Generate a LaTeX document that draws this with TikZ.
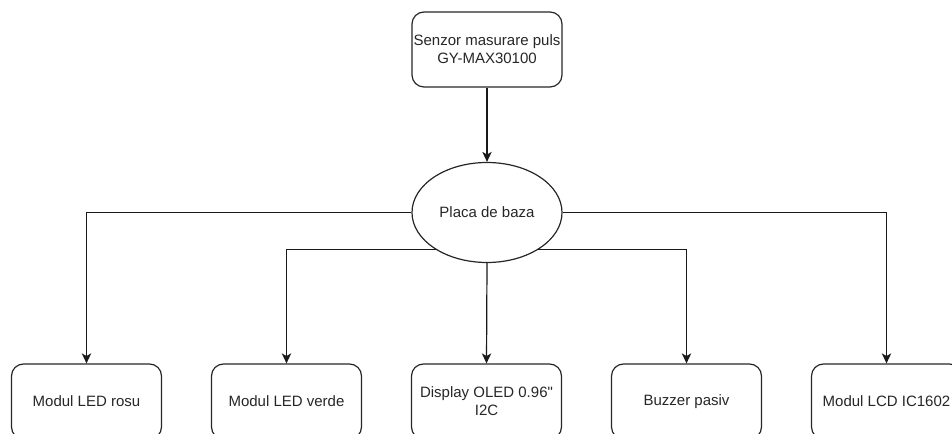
\documentclass[tikz,border=0pt]{standalone}
\usepackage{fontspec}
\setmainfont{Liberation Sans}[Ligatures=TeXOff]
\usetikzlibrary{shapes.geometric,arrows.meta}
\begin{document}
\begin{tikzpicture}[x=0.75pt,y=-0.75pt,
  every node/.style={font=\fontsize{11.25}{13.5}\selectfont, text=black!85, align=center},
  box/.style={draw=black!85, line width=0.9pt, rounded corners=9pt, minimum width=112.5pt, minimum height=56.25pt, inner sep=0pt},
  ell/.style={draw=black!85, line width=0.9pt, ellipse, minimum width=112.5pt, minimum height=75pt, inner sep=0pt},
  conn/.style={draw=black!90, line width=0.9pt},
  arr/.style={conn, -{Stealth[length=7.5pt,width=7pt,inset=2pt]}}]
\path[use as bounding box, clip] (0,0) rectangle (952,434);
\node[box] (top) at (487,49.5) {Senzor masurare puls\\GY-MAX30100};
\node[ell] (ell) at (487,212.5) {Placa de baza};
\node[box] (b1) at (86.5,401.5) {Modul LED rosu};
\node[box] (b2) at (286.5,401.5) {Modul LED verde};
\node[box] (b3) at (486.5,401.5) {Display OLED 0.96"\\I2C};
\node[box] (b4) at (686.5,401.5) {Buzzer pasiv};
\node[box] (b5) at (886.5,401.5) {Modul LCD IC1602};
\draw[arr] (top.south) -- (ell.north);
\draw[arr] (ell.west) -| (b1.north);
\draw[arr] (ell.east) -| (b5.north);
\draw[arr] (ell.216.3) -| (b2.north);
\draw[arr] (ell.-36.3) -| (b4.north);
\draw[arr] (ell.south) -- (b3.north);
\end{tikzpicture}
\end{document}
